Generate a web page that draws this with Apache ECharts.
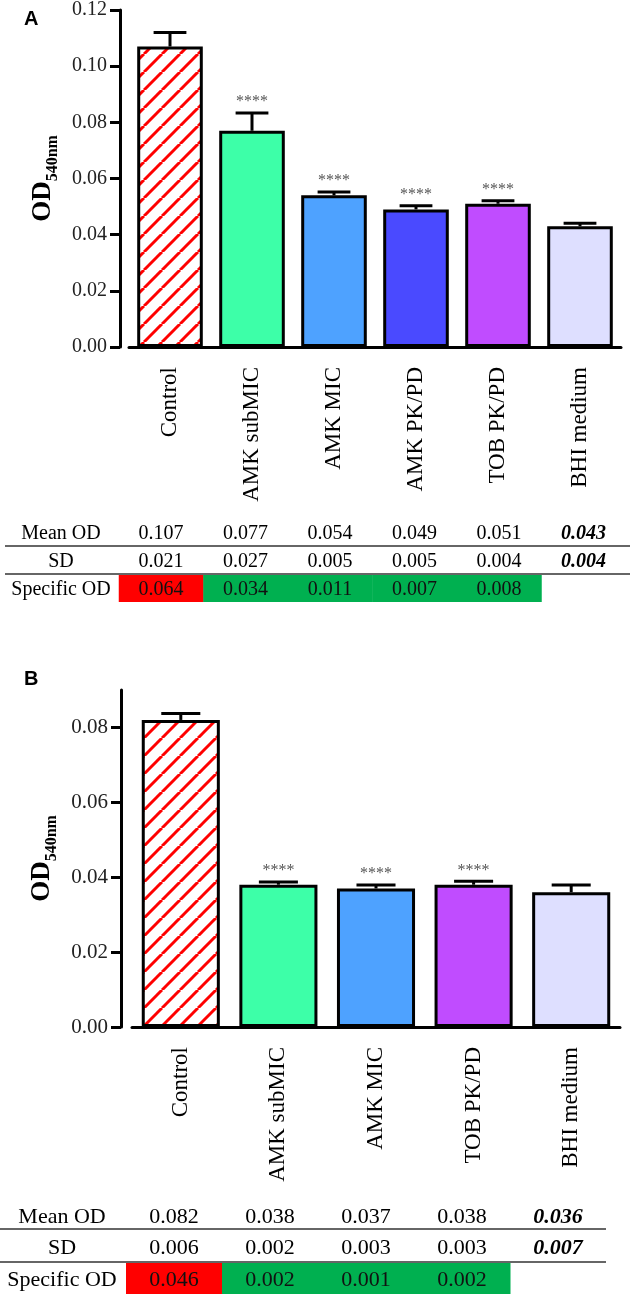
<!DOCTYPE html>
<html>
<head>
<meta charset="utf-8">
<script src="https://cdn.jsdelivr.net/npm/echarts@6/dist/echarts.min.js"></script>
<style>
html,body{margin:0;padding:0;background:#fff;}
#chart{width:634px;height:1297px;}
</style>
</head>
<body>
<div id="chart"></div>
<script>
// ---- panel A ----
var catsA = ['Control', 'AMK subMIC', 'AMK MIC', 'AMK PK/PD', 'TOB PK/PD', 'BHI medium'];
var meanA = [0.107, 0.077, 0.054, 0.049, 0.051, 0.043];
var errA = [0.0050, 0.0063, 0.0012, 0.0013, 0.0011, 0.0011];
var sdA = [0.021, 0.027, 0.005, 0.005, 0.004, 0.004];
var specA = [0.064, 0.034, 0.011, 0.007, 0.008, null];
var sigA = ['', '****', '****', '****', '****', ''];
var ticksA = [0, 0.02, 0.04, 0.06, 0.08, 0.10, 0.12];

// ---- panel B ----
var catsB = ['Control', 'AMK subMIC', 'AMK MIC', 'TOB PK/PD', 'BHI medium'];
var meanB = [0.082, 0.038, 0.037, 0.038, 0.036];
var errB = [0.0017, 0.0007, 0.0009, 0.0009, 0.0019];
var sdB = [0.006, 0.002, 0.003, 0.003, 0.007];
var specB = [0.046, 0.002, 0.001, 0.002, null];
var sigB = ['', '****', '****', '****', ''];
var ticksB = [0, 0.02, 0.04, 0.06, 0.08];

var SERIF = '"Liberation Serif", "Times New Roman", serif';

// red diagonal hatch for the control bar
function hatch(){
    var c = document.createElement('canvas');
    c.width = 18; c.height = 18;
    var ctx = c.getContext('2d');
    ctx.fillStyle = '#fff';
    ctx.fillRect(0, 0, 18, 18);
    ctx.strokeStyle = '#ff0000';
    ctx.lineWidth = 3;
    for (var k = -1; k <= 1; k++) {
        ctx.beginPath();
        ctx.moveTo(k * 18, 18);
        ctx.lineTo(k * 18 + 18, 0);
        ctx.stroke();
    }
    return {image: c, repeat: 'repeat'};
}
var hatchFill = hatch();

var barColors = {
    'Control': hatchFill,
    'AMK subMIC': '#3dffa8',
    'AMK MIC': '#4ea2ff',
    'AMK PK/PD': '#4a4aff',
    'TOB PK/PD': '#c04cff',
    'BHI medium': '#dedfff'
};

function barData(cats, means){
    return means.map(function(v, i){
        return {value: v, itemStyle: {color: barColors[cats[i]]}};
    });
}

function errSeries(idx, means, errs, sig){
    return {
        type: 'custom',
        xAxisIndex: idx, yAxisIndex: idx,
        z: 5,
        data: means.map(function(m, i){ return [i, m + errs[i], m]; }),
        renderItem: function(params, api){
            var top = api.coord([api.value(0), api.value(1)]);
            var base = api.coord([api.value(0), api.value(2)]);
            var half = api.size([1, 0])[0] * 0.2;
            var kids = [
                {type: 'line', shape: {x1: top[0], y1: base[1], x2: top[0], y2: top[1]},
                 style: {stroke: '#000', lineWidth: 3}},
                {type: 'line', shape: {x1: top[0] - half, y1: top[1], x2: top[0] + half, y2: top[1]},
                 style: {stroke: '#000', lineWidth: 3}}
            ];
            var s = sig[params.dataIndex];
            if (s) {
                kids.push({type: 'text', x: top[0], y: top[1] - 11,
                    style: {text: s, align: 'center', verticalAlign: 'middle',
                        fontSize: 16, fontFamily: SERIF, fill: '#555'}});
            }
            return {type: 'group', children: kids};
        }
    };
}

function yAxisCfg(idx, max, ticks, offset, fs, gap){
    return {
        gridIndex: idx, type: 'value', min: 0, max: max, offset: offset,
        name: '{a|OD}{b|540nm}', nameLocation: 'middle', nameGap: gap,
        nameTextStyle: {
            rich: {
                a: {fontSize: 27, fontWeight: 'bold', fontFamily: SERIF, color: '#000', verticalAlign: 'bottom', padding: [0, 0, 5, 0]},
                b: {fontSize: 16, fontWeight: 'bold', fontFamily: SERIF, color: '#000', verticalAlign: 'bottom'}
            }
        },
        axisLine: {show: true, lineStyle: {color: '#000', width: 3}},
        axisTick: {show: true, length: 10, lineStyle: {color: '#000', width: 3}, customValues: ticks},
        axisLabel: {customValues: ticks, margin: 13, fontSize: fs, fontFamily: SERIF, color: '#222',
            formatter: function(v){ return v.toFixed(2); }},
        splitLine: {show: false}
    };
}

function xAxisCfg(idx, cats){
    return {
        gridIndex: idx, type: 'category', data: cats,
        axisLine: {lineStyle: {color: '#000', width: 3}},
        axisTick: {alignWithLabel: true, length: 10, lineStyle: {color: '#000', width: 3}},
        axisLabel: {rotate: 90, margin: 20, interval: 0, fontSize: 23, fontFamily: SERIF, color: '#000'}
    };
}

// table drawn under each chart
function table(cfg){
    var g = [];
    var rows = [['Mean OD', cfg.mean], ['SD', cfg.sd], ['Specific OD', cfg.spec]];
    g.push({type: 'line', shape: {x1: cfg.x1, y1: cfg.line1, x2: cfg.x2, y2: cfg.line1}, style: {stroke: '#333', lineWidth: 1.5}});
    g.push({type: 'line', shape: {x1: cfg.x1, y1: cfg.line2, x2: cfg.x2, y2: cfg.line2}, style: {stroke: '#333', lineWidth: 1.5}});
    cfg.spec.forEach(function(v, i){
        if (v === null) return;
        g.push({type: 'rect', z: 1,
            shape: {x: cfg.col0 + i * cfg.colW - cfg.colW / 2, y: cfg.cellTop, width: cfg.colW + 0.5, height: cfg.cellH},
            style: {fill: i === 0 ? '#ff0000' : '#00b050'}});
    });
    rows.forEach(function(r, ri){
        var y = cfg.rowY[ri];
        g.push({type: 'text', z: 2, x: cfg.labelX, y: y,
            style: {text: r[0], align: 'center', verticalAlign: 'middle', fontSize: cfg.fs, fontFamily: SERIF, fill: '#000'}});
        r[1].forEach(function(v, i){
            if (v === null) return;
            var last = i === r[1].length - 1 && ri < 2;
            g.push({type: 'text', z: 2, x: cfg.col0 + i * cfg.colW, y: y,
                style: {text: v.toFixed(3), align: 'center', verticalAlign: 'middle',
                    fontSize: cfg.fs, fontFamily: SERIF, fill: ri === 2 ? '#111' : '#000',
                    fontWeight: last ? 'bold' : 'normal', fontStyle: last ? 'italic' : 'normal'}});
        });
    });
    return g;
}

var graphics = [
    {type: 'text', x: 24, y: 19, style: {text: 'A', fontSize: 20, fontWeight: 'bold', fontFamily: '"Liberation Sans", Arial, sans-serif', fill: '#000', verticalAlign: 'middle'}},
    {type: 'text', x: 24, y: 679, style: {text: 'B', fontSize: 20, fontWeight: 'bold', fontFamily: '"Liberation Sans", Arial, sans-serif', fill: '#000', verticalAlign: 'middle'}}
].concat(table({
    mean: meanA, sd: sdA, spec: specA, fs: 20,
    labelX: 61, col0: 161, colW: 84.5,
    rowY: [534, 562, 590], line1: 546, line2: 574, x1: 5, x2: 630,
    cellTop: 575, cellH: 27
})).concat(table({
    mean: meanB, sd: sdB, spec: specB, fs: 22,
    labelX: 62, col0: 174, colW: 96,
    rowY: [1217, 1248, 1280], line1: 1229, line2: 1262, x1: 0, x2: 606,
    cellTop: 1263, cellH: 31
}));

var option = {
    animation: false,
    backgroundColor: '#fff',
    grid: [
        {left: 129, right: 13, top: 7, height: 340},
        {left: 132, right: 14, top: 690, height: 337}
    ],
    xAxis: [xAxisCfg(0, catsA), xAxisCfg(1, catsB)],
    yAxis: [yAxisCfg(0, 0.12, ticksA, 9, 20, 50), yAxisCfg(1, 0.09, ticksB, 11, 21, 50)],
    series: [
        {type: 'bar', xAxisIndex: 0, yAxisIndex: 0, barCategoryGap: '20%', data: barData(catsA, meanA),
         itemStyle: {borderColor: '#000', borderWidth: 3}},
        errSeries(0, meanA, errA, sigA),
        {type: 'bar', xAxisIndex: 1, yAxisIndex: 1, barCategoryGap: '20%', data: barData(catsB, meanB),
         itemStyle: {borderColor: '#000', borderWidth: 3}},
        errSeries(1, meanB, errB, sigB)
    ],
    graphic: graphics
};

echarts.init(document.getElementById('chart')).setOption(option);
</script>
</body>
</html>
